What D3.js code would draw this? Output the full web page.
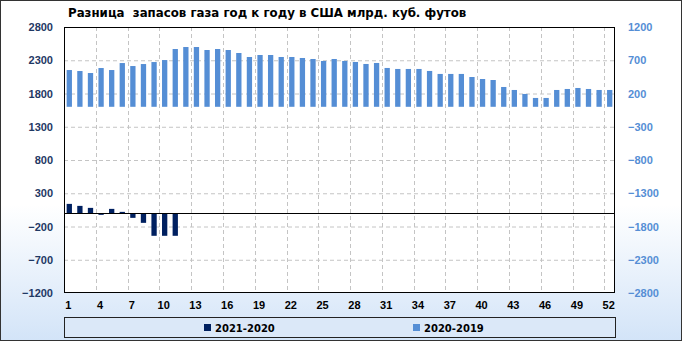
<!DOCTYPE html>
<html lang="ru">
<head>
  <meta charset="UTF-8">
  <title>Разница запасов газа</title>
  <script src="https://d3js.org/d3.v7.min.js"></script>
  <style>
    body { margin: 0; }
    svg { display: block; font-family: "DejaVu Sans", sans-serif; }
    .grid line { stroke: #c4c4c4; stroke-dasharray: 4,3; }
    .axis text { font-weight: bold; font-size: 11px; }
  </style>
</head>
<body>
<div id="chart"></div>
<script>
  const width = 682, height = 341;

  const weeks = d3.range(1, 53);
  // 2021-2020, left axis (only first 11 weeks)
  const diff2021 = [140, 110, 80, -25, 65, 20, -70, -145, -340, -340, -340];
  // 2020-2019, right axis
  const diff2020 = [553, 538, 508, 583, 553, 658, 613, 643, 673, 703,
                    869, 899, 899, 854, 869, 854, 809, 749, 779, 779,
                    749, 749, 734, 719, 689, 719, 689, 674, 644, 659,
                    584, 569, 569, 569, 539, 494, 494, 494, 448, 418,
                    403, 298, 253, 193, 133, 133, 253, 268, 283, 268,
                    253, 253];
  const leftTicks = [2800, 2300, 1800, 1300, 800, 300, -200, -700, -1200];
  const rightTicks = [1200, 700, 200, -300, -800, -1300, -1800, -2300, -2800];
  const xLabels = d3.range(1, 53, 3);
  const seriesNames = ["2021-2020", "2020-2019"];
  const colors = ["#002060", "#558ed5"];

  const m = { left: 64, right: 615, top: 27, bottom: 293 };

  const svg = d3.select("#chart").append("svg")
    .attr("width", width).attr("height", height);

  const defs = svg.append("defs");
  const grad = defs.append("linearGradient").attr("id", "bg")
    .attr("x1", 0).attr("y1", 0).attr("x2", 0).attr("y2", 1);
  grad.append("stop").attr("offset", "0.6").attr("stop-color", "#ffffff");
  grad.append("stop").attr("offset", "1").attr("stop-color", "#d3e4f8");

  svg.append("rect").attr("x", 0.5).attr("y", 0.5)
    .attr("width", width - 1).attr("height", height - 1)
    .attr("fill", "url(#bg)").attr("stroke", "#333");

  const x = d3.scaleBand().domain(weeks).range([m.left, m.right]);
  const yL = d3.scaleLinear().domain([-1200, 2800]).range([m.bottom, m.top]);
  const yR = d3.scaleLinear().domain([-2800, 1200]).range([m.bottom, m.top]);
  const bw = x.bandwidth();

  // plot area
  svg.append("rect").attr("x", m.left).attr("y", m.top)
    .attr("width", m.right - m.left).attr("height", m.bottom - m.top)
    .attr("fill", "#fff");

  // horizontal grid
  svg.append("g").attr("class", "grid")
    .selectAll("line").data(leftTicks.slice(1, -1)).enter().append("line")
    .attr("x1", m.left).attr("x2", m.right)
    .attr("y1", d => yL(d) + 0.5).attr("y2", d => yL(d) + 0.5);

  // vertical grid every 3 weeks, at category boundaries
  svg.append("g").attr("class", "grid")
    .selectAll("line").data(d3.range(3, 52, 3)).enter().append("line")
    .attr("x1", d => Math.round(x(d) + bw) + 0.5).attr("x2", d => Math.round(x(d) + bw) + 0.5)
    .attr("y1", m.top).attr("y2", m.bottom);

  // 2020-2019 bars (right axis)
  svg.append("g").selectAll("rect").data(diff2020).enter().append("rect")
    .attr("x", (d, i) => x(weeks[i]) + bw * 0.25)
    .attr("width", bw * 0.5)
    .attr("y", d => Math.min(yR(d), yR(0)))
    .attr("height", d => Math.abs(yR(d) - yR(0)))
    .attr("fill", colors[1]);

  // 2021-2020 bars (left axis)
  svg.append("g").selectAll("rect").data(diff2021).enter().append("rect")
    .attr("x", (d, i) => x(weeks[i]) + bw * 0.25)
    .attr("width", bw * 0.5)
    .attr("y", d => Math.min(yL(d), yL(0)))
    .attr("height", d => Math.abs(yL(d) - yL(0)))
    .attr("fill", colors[0]);

  // zero line
  svg.append("line").attr("x1", m.left).attr("x2", m.right)
    .attr("y1", Math.round(yL(0)) + 0.5).attr("y2", Math.round(yL(0)) + 0.5)
    .attr("stroke", "#000");

  // plot border
  svg.append("rect").attr("x", m.left + 0.5).attr("y", m.top + 0.5)
    .attr("width", m.right - m.left - 1).attr("height", m.bottom - m.top - 1)
    .attr("fill", "none").attr("stroke", "#000");

  // left axis
  const gl = svg.append("g").attr("class", "axis")
    .attr("transform", `translate(${m.left - 11},0)`)
    .call(d3.axisLeft(yL).tickValues(leftTicks).tickSize(0).tickPadding(0).tickFormat(d3.format("d")));
  gl.select(".domain").remove();
  gl.selectAll("text").attr("fill", "#1f3864");

  // right axis
  const gr = svg.append("g").attr("class", "axis")
    .attr("transform", `translate(${m.right + 13},0)`)
    .call(d3.axisRight(yR).tickValues(rightTicks).tickSize(0).tickPadding(0).tickFormat(d3.format("d")));
  gr.select(".domain").remove();
  gr.selectAll("text").attr("fill", "#558ed5");

  // x axis labels
  const gx = svg.append("g").attr("class", "axis")
    .attr("transform", `translate(0,${m.bottom + 4})`)
    .call(d3.axisBottom(x).tickValues(xLabels).tickSize(0).tickPadding(4));
  gx.select(".domain").remove();
  gx.selectAll("text").attr("fill", "#000").attr("dx", -1);

  // title
  svg.append("text").attr("x", 68).attr("y", 17)
    .attr("font-size", 11.8).attr("font-weight", "bold")
    .style("white-space", "pre")
    .text("Разница  запасов газа год к году в США млрд. куб. футов");

  // legend
  svg.append("rect").attr("x", m.left + 0.5).attr("y", 317.5)
    .attr("width", m.right - m.left).attr("height", 20)
    .attr("fill", "#dbe8f8").attr("stroke", "#222");
  const legX = [204, 413];
  const leg = svg.append("g").selectAll("g").data(seriesNames).enter().append("g")
    .attr("transform", (d, i) => `translate(${legX[i]},323)`);
  leg.append("rect").attr("width", 7).attr("height", 7).attr("y", 1)
    .attr("fill", (d, i) => colors[i]);
  leg.append("text").attr("x", 11).attr("y", 8.5)
    .attr("font-size", 10).attr("font-weight", "bold").text(d => d);
</script>
</body>
</html>
